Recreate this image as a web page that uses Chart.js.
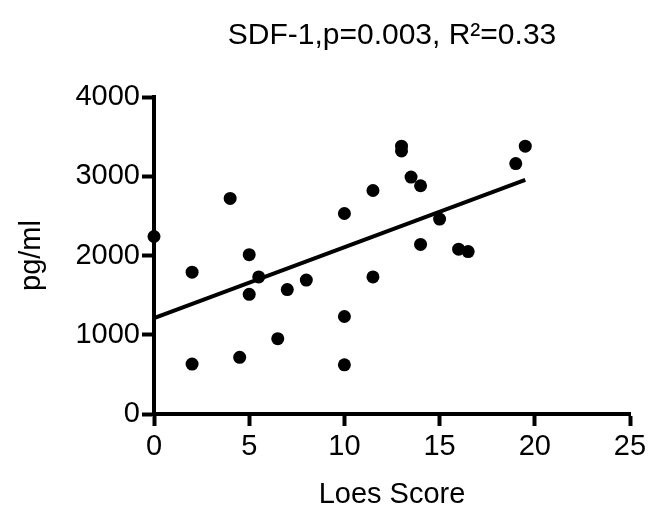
<!DOCTYPE html>
<html>
<head>
<meta charset="utf-8">
<script src="https://cdn.jsdelivr.net/npm/chart.js@4"></script>
<style>
  html, body { margin: 0; padding: 0; background: #fff; }
  #wrap { width: 658px; height: 507px; }
</style>
</head>
<body>
<div id="wrap"><canvas id="grafikSdf"></canvas></div>
<script>
// Data (Loes Score vs SDF-1 pg/ml)
const loesScore = [0, 2, 2, 4, 4.5, 5, 5, 5.5, 6.5, 7, 8, 10, 10, 10, 11.5, 11.5, 13, 13, 13.5, 14, 14, 15, 16, 16.5, 19, 19.5];
const sdfValues = [2240, 1790, 630, 2720, 715, 2010, 1510, 1730, 950, 1570, 1690, 2530, 1230, 620, 2820, 1730, 3380, 3320, 2990, 2880, 2140, 2460, 2080, 2050, 3160, 3380];

// Garis regresi (ujung kiri dan kanan)
const fitX = [0, 19.5];
const fitY = [1210, 2955];

const xTicks = [0, 5, 10, 15, 20, 25];
const yTicks = [0, 1000, 2000, 3000, 4000];

const FONT = "'Liberation Sans', Arial, Helvetica, sans-serif";

document.addEventListener('DOMContentLoaded', () => {
    const ctx = document.getElementById('grafikSdf');

    const points = loesScore.map((x, i) => ({ x: x, y: sdfValues[i] }));
    const fitLine = fitX.map((x, i) => ({ x: x, y: fitY[i] }));

    new Chart(ctx, {
        type: 'scatter',
        data: {
            datasets: [
                {
                    label: 'SDF-1',
                    data: points,
                    backgroundColor: '#000',
                    borderWidth: 0,
                    pointRadius: 6.5,
                    clip: false
                },
                {
                    type: 'line',
                    label: 'fit',
                    data: fitLine,
                    borderColor: '#000',
                    borderWidth: 4,
                    pointRadius: 0,
                    fill: false,
                    clip: false
                }
            ]
        },
        options: {
            responsive: true,
            maintainAspectRatio: false,
            animation: false,
            layout: { padding: { left: 0, right: 28, top: 0, bottom: 0 } },
            plugins: {
                legend: { display: false },
                tooltip: { enabled: false },
                title: {
                    display: true,
                    fullSize: false, // judul di tengah area grafik
                    text: 'SDF-1,p=0.003, R\u00B2=0.33',
                    color: '#000',
                    font: { family: FONT, size: 30, weight: 'normal', lineHeight: 1.2 },
                    padding: { top: 18, bottom: 43 },
                    align: 'center'
                }
            },
            scales: {
                x: {
                    type: 'linear',
                    min: 0,
                    max: 25,
                    afterBuildTicks: (scale) => { scale.ticks = xTicks.map(v => ({ value: v })); },
                    afterFit: (scale) => { scale.height = 93; },
                    border: { display: true, color: '#000', width: 4 },
                    grid: {
                        drawOnChartArea: false,
                        drawTicks: true,
                        tickLength: 12,
                        tickWidth: 4,
                        tickColor: '#000'
                    },
                    ticks: {
                        color: '#000',
                        padding: 4,
                        maxRotation: 0,
                        callback: (v) => String(v),
                        font: { family: FONT, size: 29 }
                    },
                    title: {
                        display: true,
                        text: 'Loes Score',
                        color: '#000',
                        font: { family: FONT, size: 29, lineHeight: 0.8 },
                        padding: { top: 0, bottom: 0 }
                    }
                },
                y: {
                    type: 'linear',
                    min: 0,
                    max: 4000,
                    afterBuildTicks: (scale) => { scale.ticks = yTicks.map(v => ({ value: v })); },
                    afterFit: (scale) => { scale.width = 154; },
                    border: { display: true, color: '#000', width: 4 },
                    grid: {
                        drawOnChartArea: false,
                        drawTicks: true,
                        tickLength: 12,
                        tickWidth: 4,
                        tickColor: '#000'
                    },
                    ticks: {
                        color: '#000',
                        padding: 2,
                        callback: (v) => String(v),
                        font: { family: FONT, size: 29 }
                    },
                    title: {
                        display: true,
                        text: 'pg/ml',
                        color: '#000',
                        font: { family: FONT, size: 29, lineHeight: 1 },
                        padding: { top: 17, bottom: 0 }
                    }
                }
            }
        }
    });
});
</script>
</body>
</html>
